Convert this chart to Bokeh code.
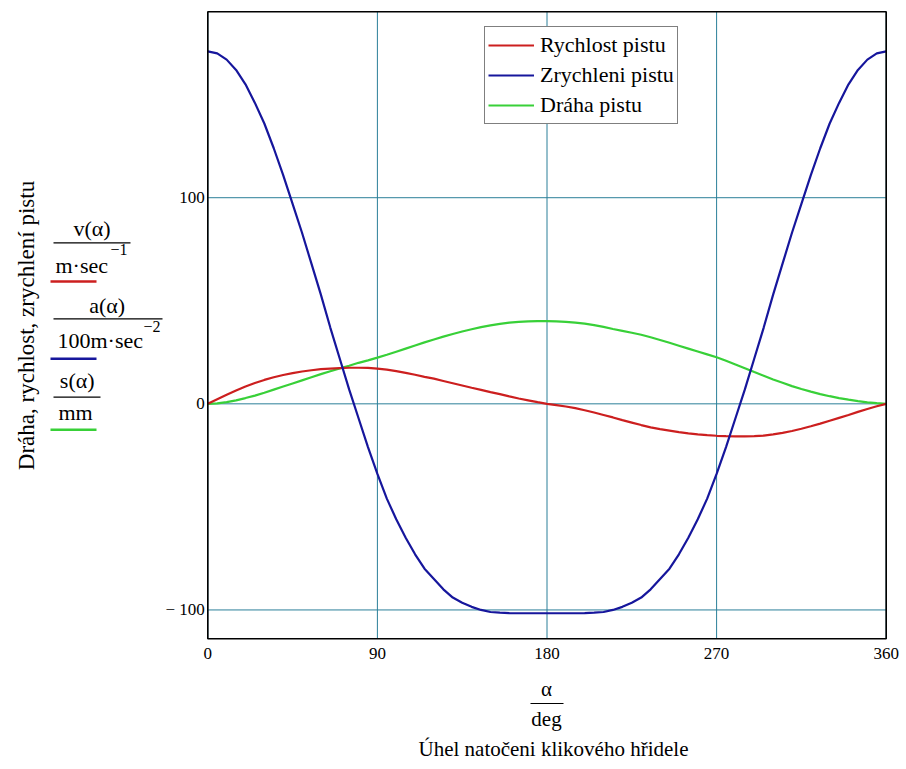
from bokeh.plotting import figure
from bokeh.models import Range1d, Label, Legend, LegendItem, FixedTicker
from bokeh.embed import file_html
from bokeh.resources import INLINE

# ---------------- data ----------------
alpha_deg = list(range(0, 361, 5))

rychlost = [0, 2.2, 4.4, 6.5, 8.4, 10.1, 11.6, 12.9, 14.0, 14.9, 15.7, 16.3, 16.8, 17.1, 17.3,
            17.5, 17.5, 17.4, 17.1, 16.6, 15.9, 15.0, 14.1, 13.1, 12.2, 11.1, 10.0, 8.9, 7.8,
            6.8, 5.7, 4.7, 3.6, 2.6, 1.7, 0.8, 0.0,
            -0.6, -1.3, -2.1, -3.1, -4.2, -5.4, -6.6, -7.9, -9.1, -10.3, -11.4, -12.3, -13.0,
            -13.7, -14.3, -14.8, -15.2, -15.5, -15.7, -15.8, -15.8, -15.7, -15.4, -14.8, -14.1,
            -13.2, -12.1, -10.9, -9.6, -8.2, -6.8, -5.4, -3.9, -2.5, -1.2, 0.0]

zrychleni = [171, 170, 167, 162, 155, 146, 136, 124, 111, 97, 83, 68, 53, 37, 22, 7, -7, -21,
             -34, -46, -56, -65, -73, -80, -85, -90, -94, -96.5, -98.5, -100, -101, -101.3,
             -101.5, -101.6, -101.6, -101.6, -101.6,
             -101.6, -101.6, -101.6, -101.5, -101.3, -101, -100, -98.5, -96.5, -94, -90, -85,
             -80, -73, -65, -56, -46, -34, -21, -7, 7, 22, 37, 53, 68, 83, 97, 111, 124, 136,
             146, 155, 162, 167, 170, 171]

draha = [0, 0.2, 0.8, 1.7, 2.8, 4.0, 5.4, 6.9, 8.4, 9.9, 11.4, 12.9, 14.4, 15.8, 17.2, 18.5,
         19.9, 21.1, 22.4, 23.8, 25.3, 26.8, 28.3, 29.8, 31.2, 32.6, 33.9, 35.1, 36.2, 37.2,
         38.1, 38.8, 39.4, 39.8, 40.0, 40.1, 40.1,
         40.0, 39.8, 39.4, 38.9, 38.2, 37.3, 36.3, 35.4, 34.5, 33.5, 32.3, 31.0, 29.6, 28.2,
         26.8, 25.4, 24.0, 22.6, 20.9, 19.1, 17.3, 15.4, 13.6, 11.8, 10.2, 8.6, 7.2, 5.9, 4.7,
         3.7, 2.8, 2.0, 1.3, 0.7, 0.3, 0.0]

x_ticks = [0, 90, 180, 270, 360]
y_ticks = [-100, 0, 100]
y_tick_labels = {-100: "\u2212 100", 0: "0", 100: "100"}

series_names = ["Rychlost pistu", "Zrychleni pistu", "Dr\u00e1ha pistu"]
y_title = "Dr\u00e1ha, rychlost, zrychlen\u00ed pistu"
x_title = "\u00dahel nato\u010deni klikov\u00e9ho h\u0159idele"

# plotted box limits (data units)
X_LO, X_HI = 0, 360
Y_LO, Y_HI = -114.0, 190.2

# ---------------- layout ----------------
W, H = 900, 765
FL, FR, FT, FB = 207.3, 885.7, 11.3, 638.3   # inner plot box in canvas px
SX = (X_HI - X_LO) / (FR - FL)               # data units per px
SY = (Y_HI - Y_LO) / (FB - FT)
XS, XE = X_LO - FL * SX, X_HI + (W - FR) * SX
YS, YE = Y_LO - (H - FB) * SY, Y_HI + FT * SY

RED, BLUE, GREEN = "#cc1f1f", "#16169c", "#38d038"
GRID = "#2b7f99"
SERIF = "Liberation Serif"

p = figure(width=W, height=H, output_backend="svg", toolbar_location=None,
           x_range=Range1d(XS, XE), y_range=Range1d(YS, YE),
           min_border=0, min_border_left=0, min_border_right=0,
           min_border_top=0, min_border_bottom=0)
p.background_fill_color = "white"
p.border_fill_color = "white"
p.outline_line_color = None
p.xgrid.visible = False
p.ygrid.visible = False

for ax in (p.xaxis[0], p.yaxis[0]):
    ax.axis_line_color = None
    ax.major_tick_line_color = None
    ax.minor_tick_line_color = None
    ax.major_tick_out = 0
    ax.major_tick_in = 0
    ax.major_label_text_font = SERIF
    ax.major_label_text_font_size = "17px"
    ax.major_label_text_color = "black"

p.xaxis.fixed_location = Y_LO
p.yaxis.fixed_location = X_LO
p.xaxis.ticker = FixedTicker(ticks=x_ticks)
p.yaxis.ticker = FixedTicker(ticks=y_ticks)
p.yaxis.major_label_overrides = y_tick_labels
p.xaxis.major_label_standoff = 9
p.yaxis.major_label_standoff = 3

# grid lines at the tick positions, bounded to the plot box
p.segment(x0=x_ticks, y0=[Y_LO] * len(x_ticks), x1=x_ticks, y1=[Y_HI] * len(x_ticks),
          line_color=GRID, line_width=1)
p.segment(x0=[X_LO] * len(y_ticks), y0=y_ticks, x1=[X_HI] * len(y_ticks), y1=y_ticks,
          line_color=GRID, line_width=1)

r_s = p.line(alpha_deg, draha, line_color=GREEN, line_width=2.2)
r_v = p.line(alpha_deg, rychlost, line_color=RED, line_width=2.2)
r_a = p.line(alpha_deg, zrychleni, line_color=BLUE, line_width=2.2)

# plot box outline
p.quad(left=[X_LO], right=[X_HI], bottom=[Y_LO], top=[Y_HI], fill_color=None,
       line_color="black", line_width=1.6)

legend = Legend(items=[LegendItem(label=series_names[0], renderers=[r_v]),
                       LegendItem(label=series_names[1], renderers=[r_a]),
                       LegendItem(label=series_names[2], renderers=[r_s])],
                location=(484, H - 124))
legend.border_line_color = "black"
legend.border_line_width = 1.5
legend.background_fill_alpha = 1
legend.label_text_font = SERIF
legend.label_text_font_size = "22px"
legend.label_text_color = "black"
legend.glyph_width = 46
legend.glyph_height = 20
legend.label_height = 30
legend.spacing = 0
legend.padding = 3
legend.margin = 0
legend.label_standoff = 6
p.add_layout(legend, "center")


# ---------- helpers: canvas pixel -> data coordinate (for text placement) ----------
def ix(px):
    return XS + px * SX


def iy(py):
    return YE - py * SY


def text(x, y, s, size, align="center", angle=0):
    p.add_layout(Label(x=ix(x), y=iy(y), text=s, text_font=SERIF, text_font_size=size,
                       text_align=align, text_baseline="middle", text_color="black",
                       angle=angle, angle_units="deg"))


def hbar(x0, x1, y, thick, color):
    p.segment(x0=[ix(x0)], y0=[iy(y)], x1=[ix(x1)], y1=[iy(y)], line_color=color,
              line_width=thick)


# y-axis title and fractions
text(26, 325, y_title, "23px", angle=90)

text(91.5, 228, "v(\u03b1)", "22px")
hbar(53, 130, 242.3, 1.2, "black")
text(55, 265, "m\u00b7sec", "22px", align="left")
text(110, 249, "\u22121", "16px", align="left")
hbar(50, 96, 281, 2.5, RED)

text(106.7, 305, "a(\u03b1)", "22px")
hbar(53, 162, 318.3, 1.2, "black")
text(57, 340, "100m\u00b7sec", "22px", align="left")
text(143, 326, "\u22122", "16px", align="left")
hbar(50, 96, 358.3, 2.5, BLUE)

text(76.7, 380, "s(\u03b1)", "22px")
hbar(53, 100, 396.7, 1.2, "black")
text(75, 412, "mm", "22px")
hbar(50, 96, 429.3, 2.5, GREEN)

# x-axis title
text(546, 688, "\u03b1", "21px")
hbar(530, 563, 703, 1.2, "black")
text(546, 718, "deg", "21px")
text(553, 748, x_title, "21px")

open("out.html", "w").write(file_html(p, INLINE))
